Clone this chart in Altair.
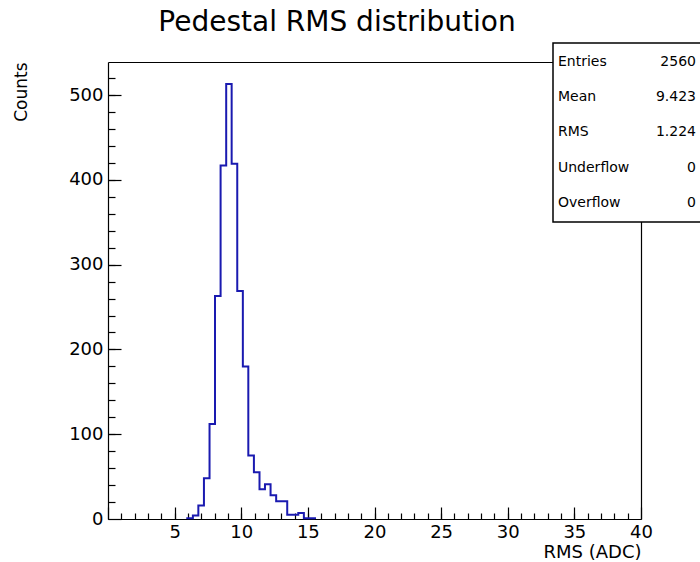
import altair as alt
import pandas as pd

# ---------------- data ----------------
bin_low = [5.95, 6.37, 6.78, 7.20, 7.62, 8.03, 8.45, 8.87, 9.28, 9.70, 10.12, 10.53,
           10.95, 11.37, 11.78, 12.20, 12.62, 13.03, 13.45, 13.87, 14.28, 14.70, 15.12]
bin_width = 0.4167
counts = [1, 4, 16, 48, 112, 263, 417, 513, 419, 269, 180, 75,
          55, 35, 41, 28, 21, 21, 5, 5, 7, 1, 1]

x_labels = [5, 10, 15, 20, 25, 30, 35, 40]
x_major = [0, 5, 10, 15, 20, 25, 30, 35, 40]
x_minor = list(range(1, 40))
y_major = [0, 100, 200, 300, 400, 500]
y_minor = list(range(20, 540, 20))

stat_names = ["Entries", "Mean", "RMS", "Underflow", "Overflow"]
stat_values = ["2560", "9.423", "1.224", "0", "0"]

title_text = "Pedestal RMS distribution"
x_title = "RMS (ADC)"
y_title = "Counts"

# ---------------- layout / style ----------------
W, H = 533, 457
FONT = "DejaVu Sans"
BLUE = "#1a1ab0"

# step outline of the histogram
xs = [bin_low[0]] + bin_low + [bin_low[-1] + bin_width]
ys = [0] + counts + [0]
hist = pd.DataFrame({"x": xs, "y": ys, "order": list(range(len(xs)))})

x_scale = alt.Scale(domain=[0, 40], nice=False, zero=False)
y_scale = alt.Scale(domain=[0, 539], nice=False, zero=False)

line = alt.Chart(hist).mark_line(
    interpolate="step-after", color=BLUE, strokeWidth=2
).encode(
    x=alt.X("x:Q", scale=x_scale, axis=alt.Axis(
        orient="bottom", values=x_labels, ticks=False, tickSize=0, grid=False,
        domain=True, domainColor="black", domainWidth=1.2,
        labelFont=FONT, labelFontSize=18, labelColor="black", labelPadding=4,
        labelFlush=False, labelOverlap=False,
        title=x_title, titleFont=FONT, titleFontSize=18, titleFontWeight="normal",
        titleColor="black", titleAlign="right", titleAnchor="end",
        titleBaseline="alphabetic", titleX=W, titleY=38)),
    y=alt.Y("y:Q", scale=y_scale, axis=alt.Axis(
        orient="left", values=y_major, ticks=False, tickSize=0, grid=False,
        domain=True, domainColor="black", domainWidth=1.2,
        labelFont=FONT, labelFontSize=18, labelColor="black", labelPadding=5,
        labelOverlap=False, labelFlush=False,
        title=y_title, titleFont=FONT, titleFontSize=17, titleFontWeight="normal",
        titleColor="black", titleAngle=270, titleAlign="right",
        titleBaseline="middle", titleX=-87, titleY=0)),
    order="order:Q",
)


def tick_layer(xvals, xsize, yvals, ysize):
    return alt.Chart(hist).mark_point(opacity=0, size=1).encode(
        x=alt.X("x:Q", scale=x_scale, axis=alt.Axis(
            orient="top", offset=-H, values=xvals, tickSize=xsize,
            tickColor="black", tickWidth=1.2, labels=False, domain=False,
            grid=False, title="")),
        y=alt.Y("y:Q", scale=y_scale, axis=alt.Axis(
            orient="right", offset=-W, values=yvals, tickSize=ysize,
            tickColor="black", tickWidth=1.2, labels=False, domain=False,
            grid=False, title="")),
    )


major = tick_layer(x_major, 12, y_major, 13)
minor = tick_layer(x_minor, 6, y_minor, 7)

frame = alt.Chart(hist).mark_point(opacity=0, size=1).encode(
    x=alt.X("x:Q", scale=x_scale, axis=alt.Axis(
        orient="top", ticks=False, labels=False, domain=True,
        domainColor="black", domainWidth=1.2, grid=False, title="")),
    y=alt.Y("y:Q", scale=y_scale, axis=alt.Axis(
        orient="right", ticks=False, labels=False, domain=True,
        domainColor="black", domainWidth=1.2, grid=False, title="")),
)

one = pd.DataFrame({"k": [0]})

title_mark = alt.Chart(pd.DataFrame({"t": [title_text]})).mark_text(
    font=FONT, fontSize=28, color="black", align="center", baseline="alphabetic"
).encode(text="t:N", x=alt.value(229), y=alt.value(-31))

box = alt.Chart(one).mark_rect(fill="white", stroke="black", strokeWidth=1.5).encode(
    x=alt.value(445), x2=alt.value(600), y=alt.value(-19), y2=alt.value(160)
)

stat_layers = []
for i, (nm, val) in enumerate(zip(stat_names, stat_values)):
    yy = -0.5 + i * 35.4
    stat_layers.append(
        alt.Chart(pd.DataFrame({"t": [nm]})).mark_text(
            font=FONT, fontSize=14, color="black", align="left", baseline="middle"
        ).encode(text="t:N", x=alt.value(450), y=alt.value(yy))
    )
    stat_layers.append(
        alt.Chart(pd.DataFrame({"t": [val]})).mark_text(
            font=FONT, fontSize=14, color="black", align="right", baseline="middle"
        ).encode(text="t:N", x=alt.value(588), y=alt.value(yy))
    )

chart = alt.layer(
    frame, minor, major, line, box, title_mark, *stat_layers
).resolve_axis(
    x="independent", y="independent"
).properties(
    width=W, height=H,
    autosize=alt.AutoSizeParams(type="none"),
    padding={"left": 108, "top": 62, "right": 59, "bottom": 43},
    background="white",
).configure_view(stroke=None)

chart.save("out.html", embed_options={"renderer": "svg", "actions": False})
